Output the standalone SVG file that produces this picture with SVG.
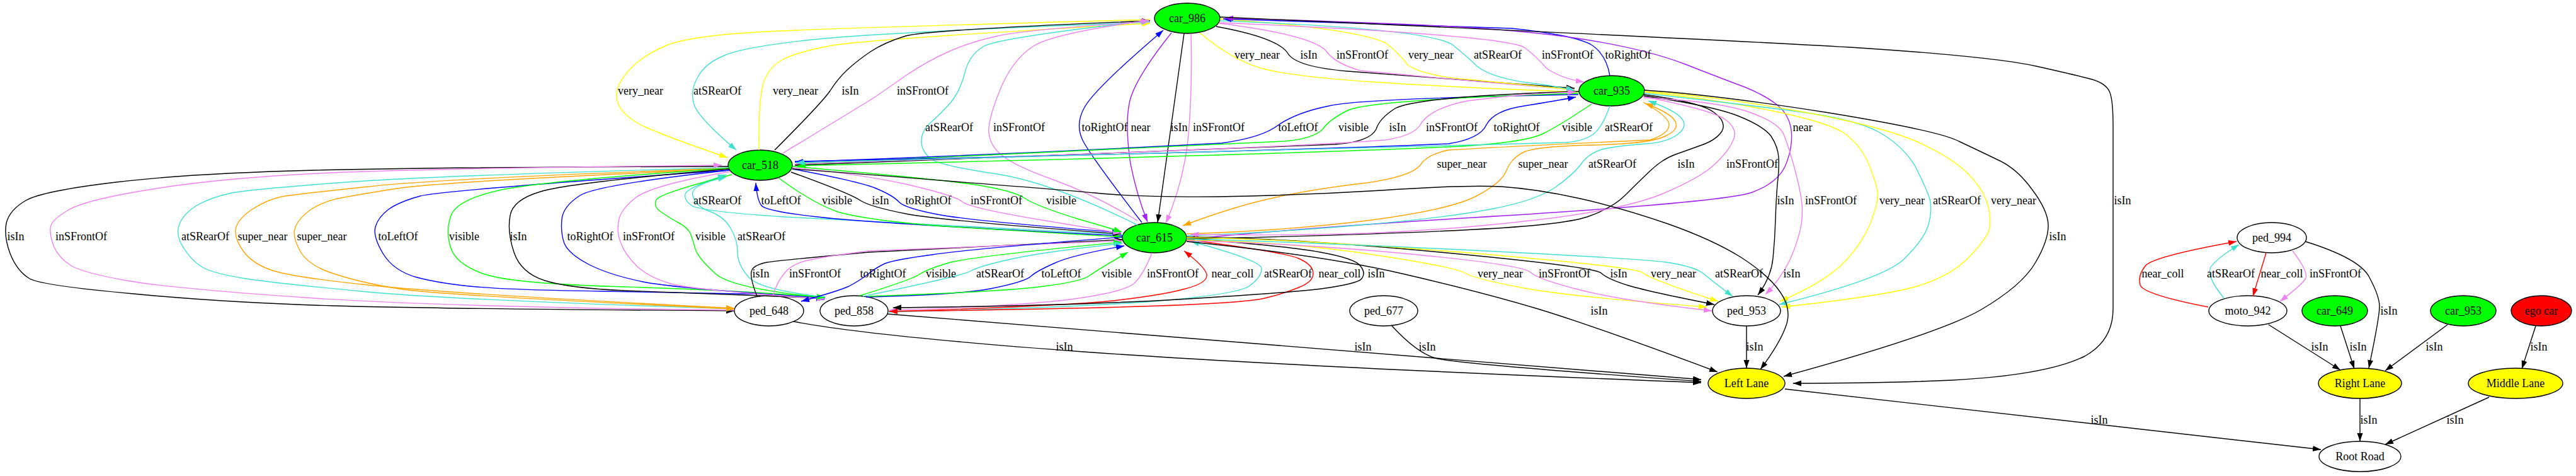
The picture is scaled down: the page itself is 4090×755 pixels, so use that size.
<svg xmlns="http://www.w3.org/2000/svg" width="4090" height="755" viewBox="0 0 4090 755">
<style>
.n ellipse{stroke:#000;stroke-width:1.4}
.n text,.lb text{font-family:"Liberation Serif","Times New Roman",serif;font-size:18px;text-anchor:middle;fill:#000}
.e path{fill:none;stroke-width:1.4}
.k{stroke:#000;marker-end:url(#ak)}
.v{stroke:#ee82ee;marker-end:url(#av)}
.t{stroke:#40e0d0;marker-end:url(#at)}
.y{stroke:#ffff00;marker-end:url(#ay)}
.o{stroke:#ffa500;marker-end:url(#ao)}
.b{stroke:#0000ff;marker-end:url(#ab)}
.g{stroke:#00ff00;marker-end:url(#ag)}
.p{stroke:#a020f0;marker-end:url(#ap)}
.r{stroke:#ff0000;marker-end:url(#ar)}
</style>
<defs>
<marker id="ak" markerUnits="userSpaceOnUse" markerWidth="14" markerHeight="10" refX="13" refY="4.5" orient="auto"><path d="M0,0L13,4.5L0,9z" fill="#000"/></marker>
<marker id="av" markerUnits="userSpaceOnUse" markerWidth="14" markerHeight="10" refX="13" refY="4.5" orient="auto"><path d="M0,0L13,4.5L0,9z" fill="#ee82ee"/></marker>
<marker id="at" markerUnits="userSpaceOnUse" markerWidth="14" markerHeight="10" refX="13" refY="4.5" orient="auto"><path d="M0,0L13,4.5L0,9z" fill="#40e0d0"/></marker>
<marker id="ay" markerUnits="userSpaceOnUse" markerWidth="14" markerHeight="10" refX="13" refY="4.5" orient="auto"><path d="M0,0L13,4.5L0,9z" fill="#ffff00"/></marker>
<marker id="ao" markerUnits="userSpaceOnUse" markerWidth="14" markerHeight="10" refX="13" refY="4.5" orient="auto"><path d="M0,0L13,4.5L0,9z" fill="#ffa500"/></marker>
<marker id="ab" markerUnits="userSpaceOnUse" markerWidth="14" markerHeight="10" refX="13" refY="4.5" orient="auto"><path d="M0,0L13,4.5L0,9z" fill="#0000ff"/></marker>
<marker id="ag" markerUnits="userSpaceOnUse" markerWidth="14" markerHeight="10" refX="13" refY="4.5" orient="auto"><path d="M0,0L13,4.5L0,9z" fill="#00ff00"/></marker>
<marker id="ap" markerUnits="userSpaceOnUse" markerWidth="14" markerHeight="10" refX="13" refY="4.5" orient="auto"><path d="M0,0L13,4.5L0,9z" fill="#a020f0"/></marker>
<marker id="ar" markerUnits="userSpaceOnUse" markerWidth="14" markerHeight="10" refX="13" refY="4.5" orient="auto"><path d="M0,0L13,4.5L0,9z" fill="#ff0000"/></marker>
</defs>
<rect width="4090" height="755" fill="#fff"/>
<g class="n" id="car_986"><ellipse cx="1885" cy="29" rx="52" ry="24" fill="#00ff00"/><text x="1885" y="35">car_986</text></g>
<g class="n" id="car_935"><ellipse cx="2559" cy="144" rx="52" ry="24" fill="#00ff00"/><text x="2559" y="150">car_935</text></g>
<g class="n" id="car_518"><ellipse cx="1207" cy="262" rx="51" ry="24" fill="#00ff00"/><text x="1207" y="268">car_518</text></g>
<g class="n" id="car_615"><ellipse cx="1833" cy="377" rx="51" ry="24" fill="#00ff00"/><text x="1833" y="383">car_615</text></g>
<g class="n" id="ped_648"><ellipse cx="1221" cy="493" rx="55" ry="24" fill="none"/><text x="1221" y="499">ped_648</text></g>
<g class="n" id="ped_858"><ellipse cx="1356" cy="493" rx="54" ry="24" fill="none"/><text x="1356" y="499">ped_858</text></g>
<g class="n" id="ped_677"><ellipse cx="2197" cy="493" rx="54" ry="24" fill="none"/><text x="2197" y="499">ped_677</text></g>
<g class="n" id="ped_953"><ellipse cx="2773" cy="493" rx="54" ry="24" fill="none"/><text x="2773" y="499">ped_953</text></g>
<g class="n" id="ped_994"><ellipse cx="3607" cy="377" rx="55" ry="24" fill="none"/><text x="3607" y="383">ped_994</text></g>
<g class="n" id="moto_942"><ellipse cx="3569" cy="493" rx="62" ry="24" fill="none"/><text x="3569" y="499">moto_942</text></g>
<g class="n" id="car_649"><ellipse cx="3707" cy="493" rx="52" ry="24" fill="#00ff00"/><text x="3707" y="499">car_649</text></g>
<g class="n" id="car_953"><ellipse cx="3911" cy="493" rx="52" ry="24" fill="#00ff00"/><text x="3911" y="499">car_953</text></g>
<g class="n" id="ego_car"><ellipse cx="4035" cy="493" rx="48" ry="24" fill="#ff0000"/><text x="4035" y="499">ego car</text></g>
<g class="n" id="left_lane"><ellipse cx="2773" cy="608" rx="61" ry="24" fill="#ffff00"/><text x="2773" y="614">Left Lane</text></g>
<g class="n" id="right_lane"><ellipse cx="3747" cy="608" rx="66" ry="24" fill="#ffff00"/><text x="3747" y="614">Right Lane</text></g>
<g class="n" id="middle_lane"><ellipse cx="3994" cy="608" rx="75" ry="24" fill="#ffff00"/><text x="3994" y="614">Middle Lane</text></g>
<g class="n" id="root_road"><ellipse cx="3747" cy="724" rx="65" ry="24" fill="none"/><text x="3747" y="730">Root Road</text></g>
<g class="e" id="connectors">
<path class="y" d="M1826,31 Q1380,43 1240,49 Q1100,55 1058,72 Q1015,90 994,117 Q972,144 982,166 Q992,187 1026,202 Q1059,217 1155,250"/>
<path class="t" d="M1826,35 Q1380,52 1280,64 Q1180,75 1150,88 Q1120,100 1108,122 Q1095,144 1102,166 Q1109,187 1169,238"/>
<path class="y" d="M1205,238 Q1204,170 1210,140 Q1216,110 1240,96 Q1265,82 1322,72 Q1380,62 1826,37"/>
<path class="k" d="M1230,238 Q1305,163 1318,144 Q1330,125 1345,111 Q1360,97 1382,82 Q1405,67 1438,57 Q1472,47 1826,33"/>
<path class="v" d="M1243,243 Q1380,160 1392,152 Q1405,143 1438,120 Q1472,97 1506,82 Q1539,67 1584,57 Q1628,47 1826,34"/>
<path class="t" d="M1806,357 Q1672,290 1583,276 Q1494,263 1478,252 Q1463,240 1463,224 Q1463,207 1478,194 Q1494,180 1510,162 Q1525,143 1532,115 Q1539,87 1561,74 Q1583,60 1824,33"/>
<path class="v" d="M1806,350 Q1740,310 1675,286 Q1610,263 1589,245 Q1568,227 1570,202 Q1573,177 1591,135 Q1610,93 1641,73 Q1672,53 1824,32"/>
<path class="b" d="M1813,353 Q1739,257 1722,228 Q1705,200 1722,170 Q1739,140 1847,48"/>
<path class="p" d="M1860,52 Q1800,127 1793,164 Q1786,200 1795,260 Q1805,310 1822,352"/>
<path class="k" d="M1880,53 L1838,353"/>
<path class="v" d="M1891,53 Q1893,133 1888,200 Q1883,280 1851,354"/>
<path class="y" d="M1905,52 Q1958,97 2009,110 Q2060,122 2180,130 Q2300,138 2505,146"/>
<path class="k" d="M1931,42 Q2030,60 2045,85 Q2058,106 2140,113 Q2350,128 2500,140"/>
<path class="v" d="M1936,37 Q2080,55 2105,80 Q2118,100 2160,112 Q2350,130 2500,142"/>
<path class="y" d="M1937,30 Q2150,45 2200,68 Q2222,85 2235,103 Q2260,120 2330,126 Q2450,137 2500,143"/>
<path class="t" d="M1937,33 Q2260,45 2305,70 Q2330,90 2345,105 Q2370,125 2440,133 Q2480,138 2500,144"/>
<path class="v" d="M1937,36 Q2380,55 2420,75 Q2440,90 2455,108 Q2480,125 2515,130"/>
<path class="b" d="M2556,120 Q2550,85 2525,70 Q2495,55 2400,45 Q2100,35 1942,30"/>
<path class="p" d="M1884,380 Q2040,363 2390,342 Q2740,320 2782,305 Q2823,290 2835,262 Q2847,233 2844,206 Q2840,180 2820,165 Q2800,150 2770,138 Q2740,127 2676,102 Q2611,77 2506,61 Q2400,45 2220,38 Q2040,31 1945,29"/>
<path class="k" d="M1937,27 Q2740,63 2953,76 Q3166,90 3233,105 Q3300,120 3322,126 Q3345,133 3350,147 Q3355,160 3355,200 L3355,490 Q3355,540 3310,565 Q3250,595 3100,603 Q2990,608 2847,608"/>
<path class="b" d="M2506,150 Q2160,156 2110,168 Q2060,178 2030,198 Q2005,218 1940,227 Q1600,245 1262,257"/>
<path class="g" d="M2506,148 Q2180,158 2140,175 Q2110,190 2100,205 Q2085,220 2040,224 Q1700,240 1264,260"/>
<path class="k" d="M2507,145 Q2250,153 2215,172 Q2190,188 2185,205 Q2175,225 2120,229 Q1700,245 1262,262"/>
<path class="v" d="M1262,260 Q2040,235 2200,222 Q2245,215 2255,198 Q2270,172 2330,160 Q2420,148 2502,146"/>
<path class="b" d="M1262,256 Q2040,240 2300,228 Q2350,220 2360,198 Q2372,175 2420,168 Q2470,160 2502,154"/>
<path class="g" d="M2527,165 Q2475,200 2450,212 Q2420,227 2300,233 Q2040,245 1266,263"/>
<path class="t" d="M2556,168 Q2545,200 2531,212 Q2515,224 2486,226 Q2040,240 1264,258"/>
<path class="o" d="M2609,162 Q2650,185 2650,198 Q2650,212 2620,222 Q2400,232 2300,238 Q2265,245 2255,262 Q2240,280 2170,290 Q2040,305 1960,330 Q1920,342 1878,358"/>
<path class="o" d="M1884,371 Q2040,366 2170,350 Q2300,333 2342,312 Q2385,290 2392,270 Q2400,250 2420,241 Q2440,232 2530,230 Q2620,228 2644,216 Q2668,205 2659,191 Q2650,178 2612,164"/>
<path class="t" d="M1884,374 Q2040,368 2170,356 Q2300,345 2371,331 Q2442,317 2471,296 Q2500,275 2512,258 Q2525,240 2552,235 Q2580,230 2615,228 Q2650,225 2665,212 Q2680,200 2670,188 Q2660,175 2617,160"/>
<path class="k" d="M2610,150 Q2700,162 2721,178 Q2742,193 2734,208 Q2725,222 2702,230 Q2680,238 2660,245 Q2640,252 2620,271 Q2600,290 2580,310 Q2560,330 2520,344 Q2480,357 2340,364 Q2200,372 1884,379"/>
<path class="v" d="M2609,153 Q2720,175 2740,190 Q2760,205 2752,222 Q2745,240 2722,261 Q2700,282 2638,308 Q2576,333 2438,349 Q2300,365 2170,370 Q2040,374 1890,372"/>
<path class="k" d="M2610,152 Q2720,168 2760,184 Q2800,200 2812,216 Q2823,233 2824,250 Q2825,267 2822,292 Q2820,317 2819,348 Q2818,380 2815,410 Q2812,440 2791,468"/>
<path class="v" d="M2610,155 Q2720,160 2772,176 Q2823,193 2832,213 Q2840,233 2849,266 Q2858,300 2860,316 Q2863,333 2860,356 Q2856,380 2842,412 Q2827,443 2803,467"/>
<path class="y" d="M2611,146 Q2720,157 2810,175 Q2899,193 2926,210 Q2952,227 2966,258 Q2979,290 2981,304 Q2983,317 2972,348 Q2961,380 2930,414 Q2899,447 2826,478"/>
<path class="t" d="M2611,148 Q2720,160 2832,174 Q2943,187 2984,210 Q3024,233 3042,266 Q3059,300 3064,316 Q3068,333 3062,356 Q3055,380 3022,412 Q2988,443 2825,483"/>
<path class="y" d="M2611,145 Q2720,152 2854,176 Q2988,200 3044,225 Q3099,250 3124,275 Q3149,300 3156,325 Q3162,350 3158,365 Q3153,380 3126,408 Q3099,437 3044,454 Q2988,470 2829,487"/>
<path class="k" d="M2611,143 Q2720,150 2898,178 Q3077,207 3110,224 Q3144,240 3173,254 Q3202,267 3226,300 Q3251,333 3252,356 Q3253,380 3232,416 Q3211,453 3144,492 Q3077,530 2832,597"/>
<path class="t" d="M1783,372 Q1380,352 1245,344 Q1110,335 1098,326 Q1086,318 1088,308 Q1090,298 1153,277"/>
<path class="b" d="M1783,374 Q1380,354 1298,344 Q1216,335 1209,326 Q1202,317 1200,290"/>
<path class="g" d="M1236,282 Q1290,322 1330,336 Q1380,350 1500,359 Q1650,368 1782,376"/>
<path class="k" d="M1256,273 Q1350,307 1366,318 Q1382,328 1438,339 Q1494,350 1780,371"/>
<path class="b" d="M1258,268 Q1360,287 1389,298 Q1418,310 1427,320 Q1436,330 1488,340 Q1539,350 1779,369"/>
<path class="v" d="M1258,266 Q1360,275 1438,292 Q1516,310 1528,320 Q1539,330 1660,350 Q1720,360 1780,370"/>
<path class="g" d="M1258,264 Q1500,285 1555,294 Q1610,303 1628,315 Q1646,327 1714,348 Q1750,358 1781,368"/>
<path class="k" d="M1258,268 Q1360,275 1516,288 Q1672,300 1739,306 Q1806,313 1933,312 Q2060,310 2193,302 Q2326,293 2384,296 Q2442,300 2509,315 Q2576,330 2648,355 Q2719,380 2764,408 Q2809,437 2827,464 Q2845,490 2836,516 Q2827,543 2795,586"/>
<path class="k" d="M1157,264 Q700,265 500,270 Q300,275 184,289 Q67,303 41,318 Q15,333 10,354 Q6,375 16,402 Q27,430 47,442 Q67,453 212,466 Q357,480 528,485 Q700,490 1166,493"/>
<path class="v" d="M1166,492 Q700,487 484,472 Q268,457 201,445 Q134,433 114,422 Q94,410 86,392 Q79,375 80,362 Q80,350 107,334 Q134,317 242,300 Q350,282 525,274 Q700,267 1146,262"/>
<path class="t" d="M1157,266 Q700,278 550,289 Q400,300 368,306 Q335,313 312,326 Q290,340 284,358 Q279,375 292,394 Q304,413 320,423 Q335,433 390,442 Q446,450 573,462 Q700,475 1166,490"/>
<path class="o" d="M1157,267 Q700,283 585,296 Q470,308 447,312 Q424,317 402,331 Q380,345 375,360 Q370,375 386,398 Q402,420 436,430 Q469,440 584,452 Q700,465 1166,489"/>
<path class="o" d="M1157,268 Q700,288 630,299 Q560,310 536,315 Q513,320 494,332 Q475,345 469,360 Q463,375 477,399 Q491,423 536,436 Q580,450 640,459 Q700,468 1166,490"/>
<path class="b" d="M1158,270 Q700,302 667,311 Q634,320 617,332 Q600,345 596,360 Q592,375 608,402 Q625,430 662,440 Q700,450 757,455 Q814,460 957,462 Q1100,465 1175,466 Q1250,466 1309,475"/>
<path class="g" d="M1157,267 Q859,287 792,302 Q725,317 716,342 Q707,367 716,394 Q725,420 770,435 Q814,450 992,455 Q1171,460 1310,472"/>
<path class="k" d="M1157,268 Q903,290 858,304 Q814,317 810,342 Q805,367 816,400 Q827,433 865,445 Q903,457 992,461 Q1082,465 1310,473"/>
<path class="b" d="M1158,270 Q948,293 921,310 Q894,327 892,348 Q890,370 896,386 Q903,403 936,420 Q970,437 1026,448 Q1082,458 1310,473"/>
<path class="v" d="M1160,272 Q1037,293 1010,313 Q984,333 982,352 Q979,370 986,386 Q992,403 1011,422 Q1030,440 1065,450 Q1100,460 1310,474"/>
<path class="g" d="M1162,277 Q1046,307 1042,317 Q1037,327 1048,335 Q1059,343 1075,352 Q1091,360 1096,370 Q1100,380 1104,395 Q1109,410 1136,434 Q1162,458 1310,472"/>
<path class="t" d="M1310,471 Q1207,460 1189,440 Q1171,420 1171,400 Q1171,380 1160,362 Q1149,343 1126,335 Q1104,327 1100,310 Q1095,293 1153,281"/>
<path class="k" d="M1202,470 Q1189,437 1194,428 Q1198,420 1218,416 Q1238,413 1380,400 L1782,380"/>
<path class="v" d="M1227,469 Q1234,447 1245,434 Q1256,420 1278,414 Q1300,408 1380,398 L1782,382"/>
<path class="b" d="M1782,376 Q1540,395 1480,404 Q1420,412 1405,418 Q1390,425 1378,435 Q1365,445 1348,454 Q1330,462 1272,478"/>
<path class="g" d="M1365,469 Q1449,443 1460,435 Q1472,427 1506,417 Q1539,407 1781,384"/>
<path class="t" d="M1370,470 Q1530,437 1541,430 Q1552,423 1601,412 Q1650,400 1782,386"/>
<path class="b" d="M1375,471 Q1516,468 1572,458 Q1628,447 1637,438 Q1646,430 1673,418 Q1700,405 1785,390"/>
<path class="g" d="M1380,470 Q1583,463 1650,455 Q1717,447 1730,437 Q1744,427 1791,400"/>
<path class="v" d="M1829,401 Q1815,437 1800,450 Q1784,463 1706,474 Q1628,485 1412,492"/>
<path class="r" d="M1410,494 Q1700,485 1776,476 Q1851,467 1882,458 Q1914,450 1916,438 Q1918,427 1880,398"/>
<path class="t" d="M1410,495 Q1700,488 1832,478 Q1963,467 1983,454 Q2003,440 2003,426 Q2003,413 1891,383"/>
<path class="r" d="M1884,380 Q2040,400 2062,410 Q2085,420 2085,434 Q2085,447 2062,456 Q2040,465 2012,472 Q1985,480 1842,485 Q1700,490 1412,494"/>
<path class="k" d="M1884,378 Q2040,390 2096,400 Q2152,410 2160,422 Q2169,433 2162,442 Q2156,450 2098,458 Q2040,465 1870,475 Q1700,485 1418,488"/>
<path class="y" d="M1884,381 Q2040,383 2174,403 Q2308,423 2326,433 Q2344,443 2415,456 Q2486,470 2710,487"/>
<path class="v" d="M1884,382 Q2040,385 2230,402 Q2419,420 2430,432 Q2442,443 2509,460 Q2576,477 2718,493"/>
<path class="k" d="M1884,376 Q2040,377 2286,400 Q2531,423 2542,433 Q2553,443 2586,453 Q2620,463 2722,483"/>
<path class="y" d="M1884,377 Q2040,378 2319,400 Q2598,423 2609,433 Q2620,443 2728,478"/>
<path class="t" d="M1884,379 Q2040,383 2320,396 Q2600,410 2646,416 Q2692,423 2706,435 Q2720,447 2751,470"/>
<path class="k" d="M1884,383 Q2100,405 2226,434 Q2352,463 2442,490 Q2531,517 2727,590"/>
<path class="k" d="M1260,510 Q1380,533 1720,558 Q2060,582 2701,607"/>
<path class="k" d="M1409,498 Q2060,552 2701,602"/>
<path class="k" d="M2210,517 Q2250,560 2279,568 Q2308,577 2701,605"/>
<path class="k" d="M2773,517 L2773,584"/>
<path class="k" d="M2834,617 L3685,713"/>
<path class="r" d="M3506,487 Q3403,467 3398,452 Q3394,437 3406,422 Q3417,407 3551,383"/>
<path class="t" d="M3531,473 Q3502,437 3510,424 Q3519,410 3555,388"/>
<path class="r" d="M3598,401 L3577,470"/>
<path class="v" d="M3640,398 Q3667,433 3660,443 Q3653,453 3620,478"/>
<path class="k" d="M3660,383 Q3747,410 3762,440 Q3778,470 3778,486 Q3778,503 3761,584"/>
<path class="k" d="M3602,515 L3716,587"/>
<path class="k" d="M3716,517 L3738,585"/>
<path class="k" d="M3886,515 L3787,588"/>
<path class="k" d="M4026,517 L4004,585"/>
<path class="k" d="M3747,632 L3747,700"/>
<path class="k" d="M3952,630 L3787,705"/>
<g class="lb">
<text x="1017" y="150">very_near</text><text x="1139" y="150">atSRearOf</text><text x="1263" y="150">very_near</text><text x="1350" y="150">isIn</text><text x="1465" y="150">inSFrontOf</text>
<text x="1996" y="93">very_near</text><text x="2078" y="93">isIn</text><text x="2163" y="93">inSFrontOf</text><text x="2272" y="93">very_near</text><text x="2378" y="93">atSRearOf</text><text x="2489" y="93">inSFrontOf</text><text x="2585" y="93">toRightOf</text>
<text x="1507" y="208">atSRearOf</text><text x="1618" y="208">inSFrontOf</text><text x="1754" y="208">toRightOf</text><text x="1811" y="208">near</text><text x="1872" y="208">isIn</text><text x="1935" y="208">inSFrontOf</text><text x="2061" y="208">toLeftOf</text><text x="2149" y="208">visible</text><text x="2219" y="208">isIn</text><text x="2305" y="208">inSFrontOf</text><text x="2408" y="208">toRightOf</text><text x="2504" y="208">visible</text><text x="2586" y="208">atSRearOf</text><text x="2862" y="208">near</text>
<text x="2321" y="266">super_near</text><text x="2450" y="266">super_near</text><text x="2560" y="266">atSRearOf</text><text x="2677" y="266">isIn</text><text x="2782" y="266">inSFrontOf</text>
<text x="1139" y="324">atSRearOf</text><text x="1240" y="324">toLeftOf</text><text x="1329" y="324">visible</text><text x="1398" y="324">isIn</text><text x="1474" y="324">toRightOf</text><text x="1582" y="324">inSFrontOf</text><text x="1685" y="324">visible</text><text x="2835" y="324">isIn</text><text x="2907" y="324">inSFrontOf</text><text x="3020" y="324">very_near</text><text x="3107" y="324">atSRearOf</text><text x="3197" y="324">very_near</text><text x="3370" y="324">isIn</text>
<text x="25" y="381">isIn</text><text x="129" y="381">inSFrontOf</text><text x="326" y="381">atSRearOf</text><text x="417" y="381">super_near</text><text x="511" y="381">super_near</text><text x="632" y="381">toLeftOf</text><text x="737" y="381">visible</text><text x="823" y="381">isIn</text><text x="937" y="381">toRightOf</text><text x="1030" y="381">inSFrontOf</text><text x="1128" y="381">visible</text><text x="1209" y="381">atSRearOf</text><text x="3267" y="381">isIn</text>
<text x="1208" y="440">isIn</text><text x="1294" y="440">inSFrontOf</text><text x="1402" y="440">toRightOf</text><text x="1494" y="440">visible</text><text x="1588" y="440">atSRearOf</text><text x="1685" y="440">toLeftOf</text><text x="1773" y="440">visible</text><text x="1862" y="440">inSFrontOf</text><text x="1957" y="440">near_coll</text><text x="2045" y="440">atSRearOf</text><text x="2127" y="440">near_coll</text><text x="2185" y="440">isIn</text><text x="2382" y="440">very_near</text><text x="2484" y="440">inSFrontOf</text><text x="2570" y="440">isIn</text><text x="2657" y="440">very_near</text><text x="2761" y="440">atSRearOf</text><text x="2845" y="440">isIn</text><text x="3434" y="440">near_coll</text><text x="3542" y="440">atSRearOf</text><text x="3623" y="440">near_coll</text><text x="3708" y="440">inSFrontOf</text>
<text x="2539" y="499">isIn</text><text x="3793" y="499">isIn</text>
<text x="1690" y="556">isIn</text><text x="2164" y="556">isIn</text><text x="2266" y="556">isIn</text><text x="2786" y="556">isIn</text><text x="3683" y="556">isIn</text><text x="3744" y="556">isIn</text><text x="3865" y="556">isIn</text><text x="4031" y="556">isIn</text>
<text x="3333" y="672">isIn</text><text x="3761" y="672">isIn</text><text x="3898" y="672">isIn</text>
</g>
</g>
</svg>
